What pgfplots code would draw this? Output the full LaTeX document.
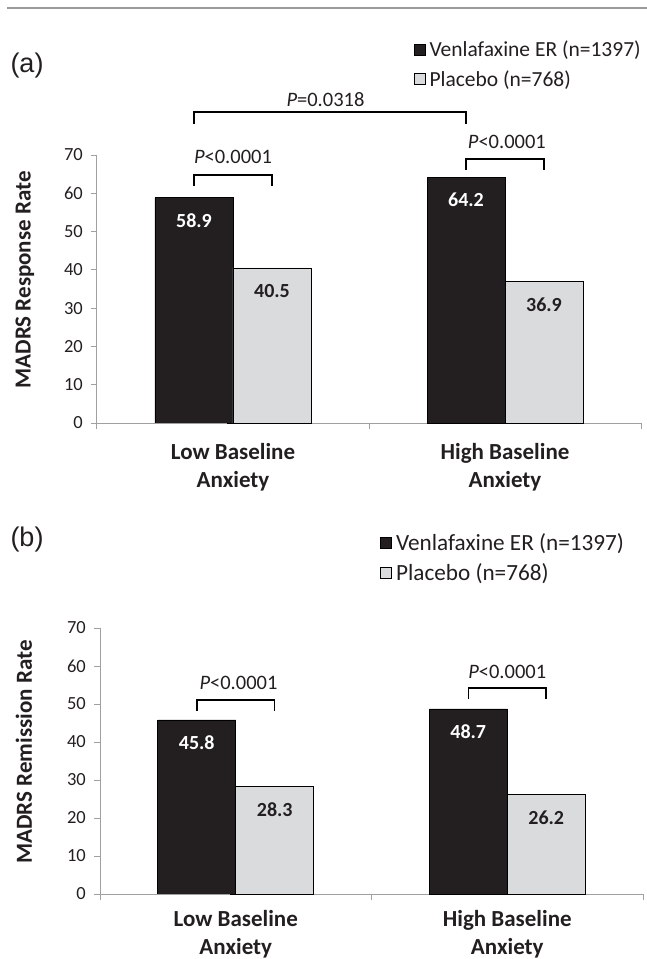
\documentclass[border=0pt]{standalone}
\usepackage{fontspec}
\setmainfont{Carlito}
\newfontfamily\arialfont{Liberation Sans}
\usepackage{pgfplots}
\pgfplotsset{compat=1.18}

\definecolor{venla}{HTML}{231F20}
\definecolor{plac}{HTML}{DADBDD}
\definecolor{axgray}{HTML}{A0A0A0}
\definecolor{txt}{HTML}{231F20}

\tikzset{
  brk/.style={black, line width=1.6pt},
  plab/.style={font=\fontsize{20.5}{24}\selectfont, text=txt},
}

\pgfplotsset{
  panel/.style={
    ybar=0pt, bar width=78pt,
    scale only axis,
    xmin=-0.5, xmax=1.5, ymin=0, ymax=70,
    clip=false,
    axis x line*=bottom, axis y line*=left,
    axis line style={axgray, line width=1pt, -},
    tick align=outside,
    major tick length=6pt,
    tick style={axgray, line width=1pt},
    xtick={-0.5,0.5,1.5}, xticklabels={},
    ytick={0,10,...,70},
    /pgf/number format/assume math mode=true,
    /pgf/number format/fixed, /pgf/number format/precision=1,
    every y tick label/.style={anchor=east, inner sep=0pt},
    yticklabel shift=8pt,
    yticklabel style={font=\fontsize{18.5}{22}\selectfont, text=txt},
    extra x ticks={0,1},
    extra x tick labels={{Low Baseline\\Anxiety},{High Baseline\\Anxiety}},
    extra x tick style={major tick length=0pt,
      tick label style={align=center, text=txt, yshift=-17pt,
        font=\bfseries\fontsize{23}{28}\selectfont}},
    ylabel style={font=\bfseries\fontsize{23}{27}\selectfont, text=txt, anchor=center},
    nodes near coords,
    every node near coord/.append style={anchor=center, yshift=-23pt,
      font=\bfseries\fontsize{20}{24}\selectfont},
    legend image code/.code={
      \draw[#1, draw=black, line width=0.7pt] (0pt,-5.5pt) rectangle (11pt,5.5pt);},
    legend cell align=left,
    legend style={draw=none, fill=none, anchor=north west,
      inner sep=0pt, text=txt, nodes={inner xsep=4pt}},
  },
  venlabar/.style={fill=venla, draw=black, line width=0.7pt,
    every node near coord/.append style={text=white}},
  placbar/.style={fill=plac, draw=black, line width=0.7pt,
    every node near coord/.append style={text=txt}},
}

\begin{document}
\begin{tikzpicture}
\path[use as bounding box] (0,0) rectangle (647pt,-959pt);
\draw[gray!80, line width=1.6pt] (7pt,-8pt) -- (647pt,-8pt);

\node[font=\arialfont\fontsize{27}{30}\selectfont, text=txt] at (27pt,-66pt) {(a)};
\node[font=\arialfont\fontsize{27}{30}\selectfont, text=txt] at (27pt,-540pt) {(b)};

% (a) response
\begin{axis}[panel,
  at={(97pt,-423pt)}, anchor=south west,
  width=544pt, height=268pt,
  ylabel={MADRS Response Rate},
  ylabel style={at={(axis description cs:-0.1324,0.534)}},
  legend style={at={(axis description cs:0.582,1.433)},
    font=\fontsize{21.5}{25}\selectfont, row sep=8pt},
]
\addplot[venlabar] coordinates {(0,58.9) (1,64.2)};
\addlegendentry{Venlafaxine ER (n=1397)}
\addplot[placbar] coordinates {(0,40.5) (1,36.9)};
\addlegendentry{Placebo (n=768)}

\draw[brk] (axis cs:-0.143,78.1) -- (axis cs:-0.143,81.2) -- (axis cs:0.857,81.2) -- (axis cs:0.857,78.1);
\node[plab] at (axis cs:0.34,84.6) {\textit{P}=0.0318};
\draw[brk] (axis cs:-0.143,61.9) -- (axis cs:-0.143,64.8) -- (axis cs:0.143,64.8) -- (axis cs:0.143,61.9);
\node[plab] at (axis cs:0,69.6) {\textit{P}<0.0001};
\draw[brk] (axis cs:0.857,66.1) -- (axis cs:0.857,68.9) -- (axis cs:1.143,68.9) -- (axis cs:1.143,66.1);
\node[plab] at (axis cs:1.007,73.4) {\textit{P}<0.0001};
\draw[axgray, line width=1pt] (axis cs:-0.5,0) -- ++(-6pt,0);
\end{axis}

% (b) remission
\begin{axis}[panel,
  at={(100pt,-894pt)}, anchor=south west,
  width=543pt, height=266pt,
  ylabel={MADRS Remission Rate},
  ylabel style={at={(axis description cs:-0.14,0.534)}},
  legend style={at={(axis description cs:0.516,1.365)},
    font=\fontsize{23.2}{27}\selectfont, row sep=8pt},
  extra x tick style={tick label style={yshift=4pt}},
]
\addplot[venlabar] coordinates {(0,45.8) (1,48.7)};
\addlegendentry{Venlafaxine ER (n=1397)}
\addplot[placbar] coordinates {(0,28.3) (1,26.2)};
\addlegendentry{Placebo (n=768)}

\draw[brk] (axis cs:-0.143,48.2) -- (axis cs:-0.143,51.05) -- (axis cs:0.143,51.05) -- (axis cs:0.143,48.2);
\node[plab] at (axis cs:0.01,55.5) {\textit{P}<0.0001};
\draw[brk] (axis cs:0.857,51.3) -- (axis cs:0.857,54.2) -- (axis cs:1.143,54.2) -- (axis cs:1.143,51.3);
\node[plab] at (axis cs:1.0,58.4) {\textit{P}<0.0001};
\draw[axgray, line width=1pt] (axis cs:-0.5,0) -- ++(-6pt,0);
\end{axis}
\end{tikzpicture}
\end{document}
